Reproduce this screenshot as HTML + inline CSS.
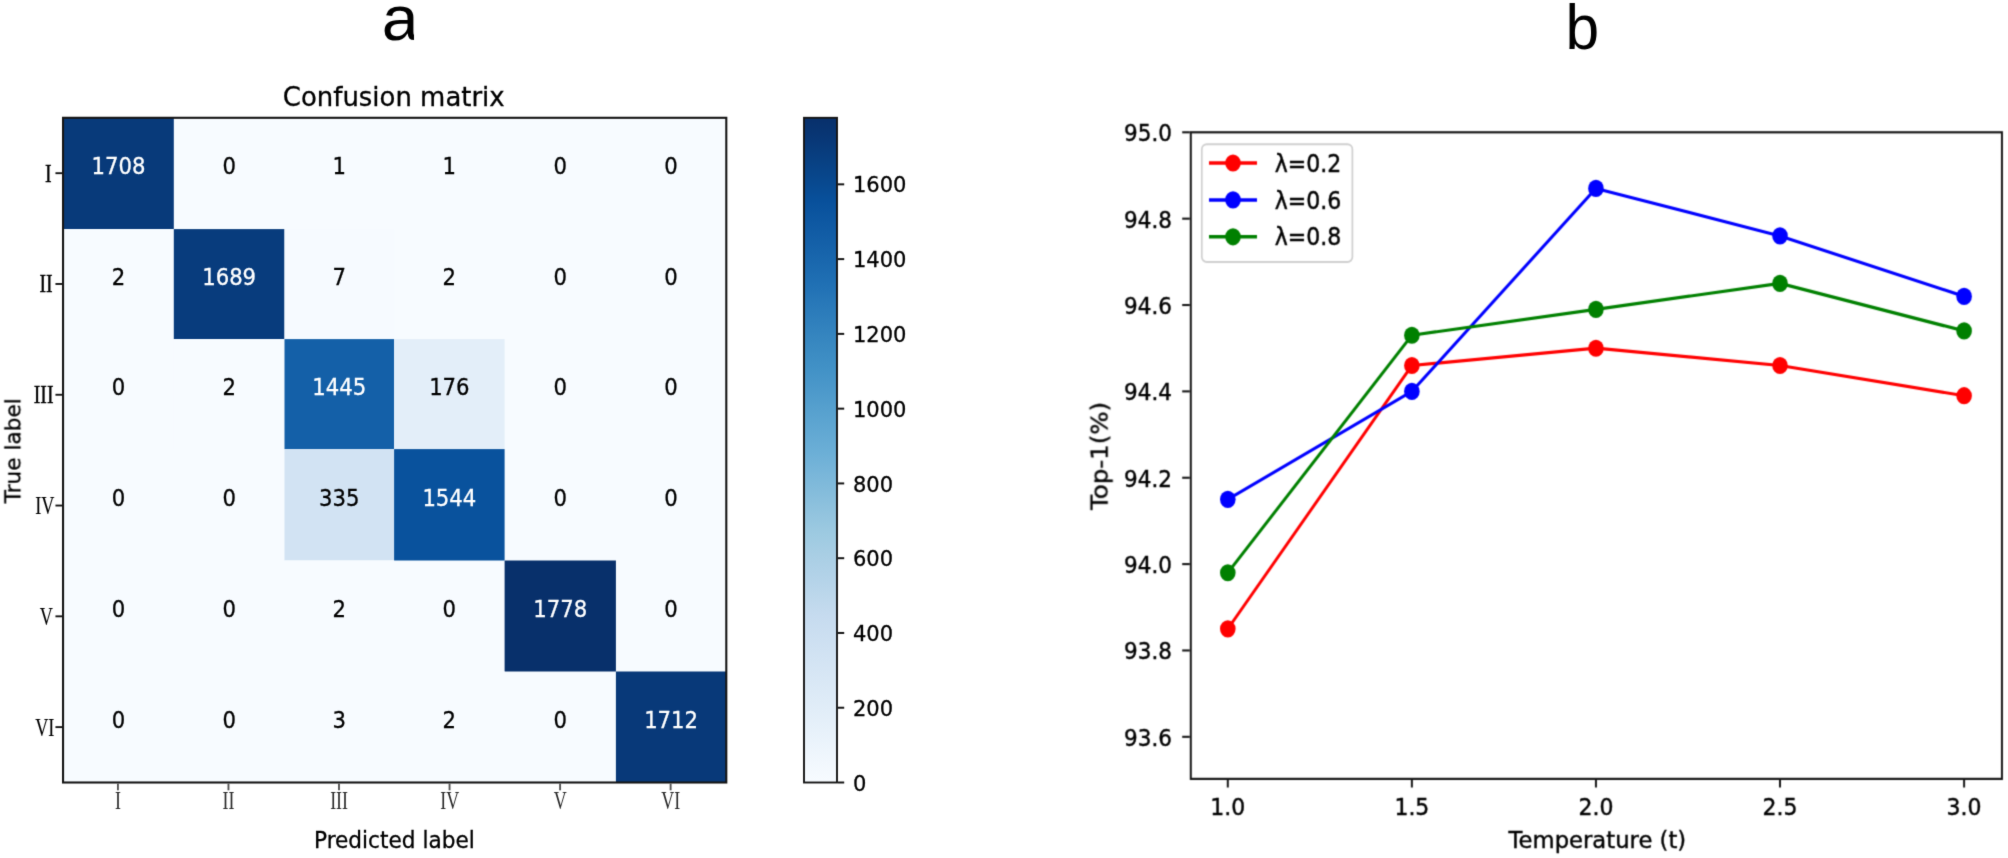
<!DOCTYPE html>
<html lang="en"><head><meta charset="utf-8"><title>Figure</title>
<style>html,body{margin:0;padding:0;background:#fff}body{width:2008px;height:858px;overflow:hidden}svg{display:block}</style></head>
<body>
<svg width="2008" height="858" viewBox="0 0 2008 858">
<rect width="2008" height="858" fill="#fff"/>
<defs><linearGradient id="cb" x1="0" y1="1" x2="0" y2="0">
<stop offset="0.0000" stop-color="#f7fbff"/>
<stop offset="0.0312" stop-color="#f1f7fd"/>
<stop offset="0.0625" stop-color="#eaf3fb"/>
<stop offset="0.0938" stop-color="#e4eff9"/>
<stop offset="0.1250" stop-color="#deebf7"/>
<stop offset="0.1562" stop-color="#d8e7f5"/>
<stop offset="0.1875" stop-color="#d2e3f3"/>
<stop offset="0.2188" stop-color="#ccdff1"/>
<stop offset="0.2500" stop-color="#c6dbef"/>
<stop offset="0.2812" stop-color="#bcd7eb"/>
<stop offset="0.3125" stop-color="#b2d2e8"/>
<stop offset="0.3438" stop-color="#a8cee4"/>
<stop offset="0.3750" stop-color="#9dcae1"/>
<stop offset="0.4062" stop-color="#91c3de"/>
<stop offset="0.4375" stop-color="#84bcdb"/>
<stop offset="0.4688" stop-color="#77b5d9"/>
<stop offset="0.5000" stop-color="#6aaed6"/>
<stop offset="0.5312" stop-color="#60a7d2"/>
<stop offset="0.5625" stop-color="#56a0ce"/>
<stop offset="0.5938" stop-color="#4b98ca"/>
<stop offset="0.6250" stop-color="#4191c6"/>
<stop offset="0.6562" stop-color="#3989c1"/>
<stop offset="0.6875" stop-color="#3181bd"/>
<stop offset="0.7188" stop-color="#2979b9"/>
<stop offset="0.7500" stop-color="#2070b4"/>
<stop offset="0.7812" stop-color="#1a68ae"/>
<stop offset="0.8125" stop-color="#1460a8"/>
<stop offset="0.8438" stop-color="#0e58a2"/>
<stop offset="0.8750" stop-color="#08509b"/>
<stop offset="0.9062" stop-color="#08488e"/>
<stop offset="0.9375" stop-color="#084082"/>
<stop offset="0.9688" stop-color="#083776"/>
<stop offset="1.0000" stop-color="#08306b"/>
</linearGradient>
<filter id="bl" color-interpolation-filters="sRGB" x="-2%" y="-2%" width="104%" height="104%"><feConvolveMatrix order="3" kernelMatrix="0.0113 0.0838 0.0113 0.0838 0.6193 0.0838 0.0113 0.0838 0.0113" edgeMode="duplicate"/></filter>
<filter id="br" color-interpolation-filters="sRGB" x="-2%" y="-2%" width="104%" height="104%"><feConvolveMatrix order="3" kernelMatrix="0.0311 0.1141 0.0311 0.1141 0.4191 0.1141 0.0311 0.1141 0.0311" edgeMode="duplicate"/></filter>
<filter id="bt" color-interpolation-filters="sRGB" x="-20%" y="-20%" width="140%" height="140%"><feConvolveMatrix order="3" kernelMatrix="0.0113 0.0838 0.0113 0.0838 0.6193 0.0838 0.0113 0.0838 0.0113" edgeMode="duplicate"/></filter>
<clipPath id="ca"><rect x="370" y="0" width="43.9" height="60"/></clipPath>
</defs>
<g font-family='"Liberation Sans", "DejaVu Sans", sans-serif' fill="#000" filter="url(#bt)">
<g clip-path="url(#ca)">
<text transform="translate(381.68 40.00) scale(1.060 1.000)" font-size="62.5">a</text>
</g>
<text transform="translate(1582.40 48.80) scale(0.955 1.000)" font-size="63.4" text-anchor="middle">b</text>
</g>
<g font-family='"DejaVu Sans", "Liberation Sans", sans-serif' fill="#000" filter="url(#bl)">
<rect x="63.05" y="117.8" width="663.25" height="664.70" fill="#f7fbff"/>
<rect x="63.05" y="117.80" width="110.75" height="111.30" fill="#083a7a"/>
<rect x="284.50" y="117.80" width="109.60" height="111.30" fill="#f7fbff"/>
<rect x="394.10" y="117.80" width="110.50" height="111.30" fill="#f7fbff"/>
<rect x="63.05" y="229.10" width="110.75" height="110.00" fill="#f7fbff"/>
<rect x="173.80" y="229.10" width="110.70" height="110.00" fill="#083c7d"/>
<rect x="284.50" y="229.10" width="109.60" height="110.00" fill="#f6faff"/>
<rect x="394.10" y="229.10" width="110.50" height="110.00" fill="#f7fbff"/>
<rect x="173.80" y="339.10" width="110.70" height="110.00" fill="#f7fbff"/>
<rect x="284.50" y="339.10" width="109.60" height="110.00" fill="#1460a8"/>
<rect x="394.10" y="339.10" width="110.50" height="110.00" fill="#e3eef9"/>
<rect x="284.50" y="449.10" width="109.60" height="111.40" fill="#d2e3f3"/>
<rect x="394.10" y="449.10" width="110.50" height="111.40" fill="#09529d"/>
<rect x="284.50" y="560.50" width="109.60" height="111.00" fill="#f7fbff"/>
<rect x="504.60" y="560.50" width="111.30" height="111.00" fill="#08306b"/>
<rect x="284.50" y="671.50" width="109.60" height="111.00" fill="#f7fbff"/>
<rect x="394.10" y="671.50" width="110.50" height="111.00" fill="#f7fbff"/>
<rect x="615.90" y="671.50" width="110.40" height="111.00" fill="#083979"/>
<text transform="translate(118.43 174.35) scale(1.000 1.060)" font-size="21.2" text-anchor="middle" fill="#fff" stroke="#fff" stroke-width="0.3">1708</text>
<text transform="translate(229.15 174.35) scale(1.000 1.060)" font-size="21.2" text-anchor="middle" stroke="#000" stroke-width="0.3">0</text>
<text transform="translate(339.30 174.35) scale(1.000 1.060)" font-size="21.2" text-anchor="middle" stroke="#000" stroke-width="0.3">1</text>
<text transform="translate(449.35 174.35) scale(1.000 1.060)" font-size="21.2" text-anchor="middle" stroke="#000" stroke-width="0.3">1</text>
<text transform="translate(560.25 174.35) scale(1.000 1.060)" font-size="21.2" text-anchor="middle" stroke="#000" stroke-width="0.3">0</text>
<text transform="translate(671.10 174.35) scale(1.000 1.060)" font-size="21.2" text-anchor="middle" stroke="#000" stroke-width="0.3">0</text>
<text transform="translate(118.43 285.00) scale(1.000 1.060)" font-size="21.2" text-anchor="middle" stroke="#000" stroke-width="0.3">2</text>
<text transform="translate(229.15 285.00) scale(1.000 1.060)" font-size="21.2" text-anchor="middle" fill="#fff" stroke="#fff" stroke-width="0.3">1689</text>
<text transform="translate(339.30 285.00) scale(1.000 1.060)" font-size="21.2" text-anchor="middle" stroke="#000" stroke-width="0.3">7</text>
<text transform="translate(449.35 285.00) scale(1.000 1.060)" font-size="21.2" text-anchor="middle" stroke="#000" stroke-width="0.3">2</text>
<text transform="translate(560.25 285.00) scale(1.000 1.060)" font-size="21.2" text-anchor="middle" stroke="#000" stroke-width="0.3">0</text>
<text transform="translate(671.10 285.00) scale(1.000 1.060)" font-size="21.2" text-anchor="middle" stroke="#000" stroke-width="0.3">0</text>
<text transform="translate(118.43 395.00) scale(1.000 1.060)" font-size="21.2" text-anchor="middle" stroke="#000" stroke-width="0.3">0</text>
<text transform="translate(229.15 395.00) scale(1.000 1.060)" font-size="21.2" text-anchor="middle" stroke="#000" stroke-width="0.3">2</text>
<text transform="translate(339.30 395.00) scale(1.000 1.060)" font-size="21.2" text-anchor="middle" fill="#fff" stroke="#fff" stroke-width="0.3">1445</text>
<text transform="translate(449.35 395.00) scale(1.000 1.060)" font-size="21.2" text-anchor="middle" stroke="#000" stroke-width="0.3">176</text>
<text transform="translate(560.25 395.00) scale(1.000 1.060)" font-size="21.2" text-anchor="middle" stroke="#000" stroke-width="0.3">0</text>
<text transform="translate(671.10 395.00) scale(1.000 1.060)" font-size="21.2" text-anchor="middle" stroke="#000" stroke-width="0.3">0</text>
<text transform="translate(118.43 505.70) scale(1.000 1.060)" font-size="21.2" text-anchor="middle" stroke="#000" stroke-width="0.3">0</text>
<text transform="translate(229.15 505.70) scale(1.000 1.060)" font-size="21.2" text-anchor="middle" stroke="#000" stroke-width="0.3">0</text>
<text transform="translate(339.30 505.70) scale(1.000 1.060)" font-size="21.2" text-anchor="middle" stroke="#000" stroke-width="0.3">335</text>
<text transform="translate(449.35 505.70) scale(1.000 1.060)" font-size="21.2" text-anchor="middle" fill="#fff" stroke="#fff" stroke-width="0.3">1544</text>
<text transform="translate(560.25 505.70) scale(1.000 1.060)" font-size="21.2" text-anchor="middle" stroke="#000" stroke-width="0.3">0</text>
<text transform="translate(671.10 505.70) scale(1.000 1.060)" font-size="21.2" text-anchor="middle" stroke="#000" stroke-width="0.3">0</text>
<text transform="translate(118.43 616.90) scale(1.000 1.060)" font-size="21.2" text-anchor="middle" stroke="#000" stroke-width="0.3">0</text>
<text transform="translate(229.15 616.90) scale(1.000 1.060)" font-size="21.2" text-anchor="middle" stroke="#000" stroke-width="0.3">0</text>
<text transform="translate(339.30 616.90) scale(1.000 1.060)" font-size="21.2" text-anchor="middle" stroke="#000" stroke-width="0.3">2</text>
<text transform="translate(449.35 616.90) scale(1.000 1.060)" font-size="21.2" text-anchor="middle" stroke="#000" stroke-width="0.3">0</text>
<text transform="translate(560.25 616.90) scale(1.000 1.060)" font-size="21.2" text-anchor="middle" fill="#fff" stroke="#fff" stroke-width="0.3">1778</text>
<text transform="translate(671.10 616.90) scale(1.000 1.060)" font-size="21.2" text-anchor="middle" stroke="#000" stroke-width="0.3">0</text>
<text transform="translate(118.43 727.90) scale(1.000 1.060)" font-size="21.2" text-anchor="middle" stroke="#000" stroke-width="0.3">0</text>
<text transform="translate(229.15 727.90) scale(1.000 1.060)" font-size="21.2" text-anchor="middle" stroke="#000" stroke-width="0.3">0</text>
<text transform="translate(339.30 727.90) scale(1.000 1.060)" font-size="21.2" text-anchor="middle" stroke="#000" stroke-width="0.3">3</text>
<text transform="translate(449.35 727.90) scale(1.000 1.060)" font-size="21.2" text-anchor="middle" stroke="#000" stroke-width="0.3">2</text>
<text transform="translate(560.25 727.90) scale(1.000 1.060)" font-size="21.2" text-anchor="middle" stroke="#000" stroke-width="0.3">0</text>
<text transform="translate(671.10 727.90) scale(1.000 1.060)" font-size="21.2" text-anchor="middle" fill="#fff" stroke="#fff" stroke-width="0.3">1712</text>
<rect x="63.05" y="117.8" width="663.25" height="664.70" fill="none" stroke="#161616" stroke-width="2.1"/>
<line x1="55.449999999999996" x2="62.05" y1="173.19" y2="173.19" stroke="#161616" stroke-width="1.9"/>
<line y1="783.5" y2="790.3" x1="117.92" x2="117.92" stroke="#555" stroke-width="1.9"/>
<line x1="55.449999999999996" x2="62.05" y1="283.98" y2="283.98" stroke="#161616" stroke-width="1.9"/>
<line y1="783.5" y2="790.3" x1="228.46" x2="228.46" stroke="#555" stroke-width="1.9"/>
<line x1="55.449999999999996" x2="62.05" y1="394.76" y2="394.76" stroke="#161616" stroke-width="1.9"/>
<line y1="783.5" y2="790.3" x1="339.00" x2="339.00" stroke="#555" stroke-width="1.9"/>
<line x1="55.449999999999996" x2="62.05" y1="505.54" y2="505.54" stroke="#161616" stroke-width="1.9"/>
<line y1="783.5" y2="790.3" x1="449.55" x2="449.55" stroke="#555" stroke-width="1.9"/>
<line x1="55.449999999999996" x2="62.05" y1="616.33" y2="616.33" stroke="#161616" stroke-width="1.9"/>
<line y1="783.5" y2="790.3" x1="560.09" x2="560.09" stroke="#555" stroke-width="1.9"/>
<line x1="55.449999999999996" x2="62.05" y1="727.11" y2="727.11" stroke="#161616" stroke-width="1.9"/>
<line y1="783.5" y2="790.3" x1="670.63" x2="670.63" stroke="#555" stroke-width="1.9"/>
<text transform="translate(393.77 106.00) scale(1.000 1.030)" font-size="25.95" text-anchor="middle" stroke="#000" stroke-width="0.3">Confusion matrix</text>
<text transform="translate(394.37 847.60) scale(1.000 1.040)" font-size="21.65" text-anchor="middle" stroke="#000" stroke-width="0.3">Predicted label</text>
<text transform="translate(20.40 450.75) rotate(-90)" font-size="21.65" text-anchor="middle" stroke="#000" stroke-width="0.3">True label</text>
<rect x="804.0" y="117.8" width="33.0" height="664.70" fill="url(#cb)" stroke="#161616" stroke-width="1.9"/>
<line x1="838.0" x2="844.2" y1="782.50" y2="782.50" stroke="#161616" stroke-width="2"/>
<text transform="translate(853.00 790.60) scale(1.000 1.050)" font-size="21.0" stroke="#000" stroke-width="0.3">0</text>
<line x1="838.0" x2="844.2" y1="707.73" y2="707.73" stroke="#161616" stroke-width="2"/>
<text transform="translate(853.00 715.83) scale(1.000 1.050)" font-size="21.0" stroke="#000" stroke-width="0.3">200</text>
<line x1="838.0" x2="844.2" y1="632.96" y2="632.96" stroke="#161616" stroke-width="2"/>
<text transform="translate(853.00 641.06) scale(1.000 1.050)" font-size="21.0" stroke="#000" stroke-width="0.3">400</text>
<line x1="838.0" x2="844.2" y1="558.19" y2="558.19" stroke="#161616" stroke-width="2"/>
<text transform="translate(853.00 566.29) scale(1.000 1.050)" font-size="21.0" stroke="#000" stroke-width="0.3">600</text>
<line x1="838.0" x2="844.2" y1="483.42" y2="483.42" stroke="#161616" stroke-width="2"/>
<text transform="translate(853.00 491.52) scale(1.000 1.050)" font-size="21.0" stroke="#000" stroke-width="0.3">800</text>
<line x1="838.0" x2="844.2" y1="408.65" y2="408.65" stroke="#161616" stroke-width="2"/>
<text transform="translate(853.00 416.75) scale(1.000 1.050)" font-size="21.0" stroke="#000" stroke-width="0.3">1000</text>
<line x1="838.0" x2="844.2" y1="333.88" y2="333.88" stroke="#161616" stroke-width="2"/>
<text transform="translate(853.00 341.98) scale(1.000 1.050)" font-size="21.0" stroke="#000" stroke-width="0.3">1200</text>
<line x1="838.0" x2="844.2" y1="259.11" y2="259.11" stroke="#161616" stroke-width="2"/>
<text transform="translate(853.00 267.21) scale(1.000 1.050)" font-size="21.0" stroke="#000" stroke-width="0.3">1400</text>
<line x1="838.0" x2="844.2" y1="184.34" y2="184.34" stroke="#161616" stroke-width="2"/>
<text transform="translate(853.00 192.44) scale(1.000 1.050)" font-size="21.0" stroke="#000" stroke-width="0.3">1600</text>
</g>
<g font-family='"Liberation Serif", "Noto Serif CJK SC", serif' filter="url(#bl)">
<text transform="translate(51.70 181.59) scale(0.760 1.000)" font-size="26" text-anchor="end" stroke="#000" stroke-width="0.45">I</text>
<text transform="translate(118.02 809.20) scale(0.690 1.000)" font-size="26" text-anchor="middle" fill="#2b2b2b">I</text>
<text transform="translate(52.70 292.38) scale(0.760 1.000)" font-size="26" text-anchor="end" stroke="#000" stroke-width="0.45">II</text>
<text transform="translate(228.56 809.20) scale(0.690 1.000)" font-size="26" text-anchor="middle" fill="#2b2b2b">II</text>
<text transform="translate(53.50 403.16) scale(0.760 1.000)" font-size="26" text-anchor="end" stroke="#000" stroke-width="0.45">III</text>
<text transform="translate(339.10 809.20) scale(0.690 1.000)" font-size="26" text-anchor="middle" fill="#2b2b2b">III</text>
<text transform="translate(54.40 513.94) scale(0.700 1.000)" font-size="26" text-anchor="end" stroke="#000" stroke-width="0.15">IV</text>
<text transform="translate(449.65 809.20) scale(0.690 1.000)" font-size="26" text-anchor="middle" fill="#2b2b2b">IV</text>
<text transform="translate(52.90 624.73) scale(0.700 1.000)" font-size="26" text-anchor="end" stroke="#000" stroke-width="0.1">V</text>
<text transform="translate(560.19 809.20) scale(0.690 1.000)" font-size="26" text-anchor="middle" fill="#2b2b2b">V</text>
<text transform="translate(54.40 735.51) scale(0.700 1.000)" font-size="26" text-anchor="end" stroke="#000" stroke-width="0.15">VI</text>
<text transform="translate(670.73 809.20) scale(0.690 1.000)" font-size="26" text-anchor="middle" fill="#2b2b2b">VI</text>
</g>
<g transform="scale(1 1.1)" font-family='"DejaVu Sans", "Liberation Sans", sans-serif' font-size="22.7" fill="#000" filter="url(#br)">
<polyline points="1227.80,571.70 1411.88,332.25 1595.95,316.55 1780.02,332.25 1964.10,359.73" fill="none" stroke="#ff0000" stroke-width="2.9" stroke-linejoin="round"/>
<circle cx="1227.80" cy="571.70" r="7.8" fill="#ff0000"/>
<circle cx="1411.88" cy="332.25" r="7.8" fill="#ff0000"/>
<circle cx="1595.95" cy="316.55" r="7.8" fill="#ff0000"/>
<circle cx="1780.02" cy="332.25" r="7.8" fill="#ff0000"/>
<circle cx="1964.10" cy="359.73" r="7.8" fill="#ff0000"/>
<polyline points="1227.80,453.94 1411.88,355.80 1595.95,171.30 1780.02,214.48 1964.10,269.44" fill="none" stroke="#0000ff" stroke-width="2.9" stroke-linejoin="round"/>
<circle cx="1227.80" cy="453.94" r="7.8" fill="#0000ff"/>
<circle cx="1411.88" cy="355.80" r="7.8" fill="#0000ff"/>
<circle cx="1595.95" cy="171.30" r="7.8" fill="#0000ff"/>
<circle cx="1780.02" cy="214.48" r="7.8" fill="#0000ff"/>
<circle cx="1964.10" cy="269.44" r="7.8" fill="#0000ff"/>
<polyline points="1227.80,520.67 1411.88,304.77 1595.95,281.22 1780.02,257.66 1964.10,300.84" fill="none" stroke="#008000" stroke-width="2.9" stroke-linejoin="round"/>
<circle cx="1227.80" cy="520.67" r="7.8" fill="#008000"/>
<circle cx="1411.88" cy="304.77" r="7.8" fill="#008000"/>
<circle cx="1595.95" cy="281.22" r="7.8" fill="#008000"/>
<circle cx="1780.02" cy="257.66" r="7.8" fill="#008000"/>
<circle cx="1964.10" cy="300.84" r="7.8" fill="#008000"/>
<rect x="1190.8" y="120.27" width="811.15" height="587.82" fill="none" stroke="#161616" stroke-width="2"/>
<line x1="1227.80" x2="1227.80" y1="709.00" y2="715.91" stroke="#161616" stroke-width="2"/>
<text transform="translate(1227.80 741.18) scale(1.000 0.985)" font-size="22.0" text-anchor="middle" stroke="#000" stroke-width="0.4">1.0</text>
<line x1="1411.88" x2="1411.88" y1="709.00" y2="715.91" stroke="#161616" stroke-width="2"/>
<text transform="translate(1411.88 741.18) scale(1.000 0.985)" font-size="22.0" text-anchor="middle" stroke="#000" stroke-width="0.4">1.5</text>
<line x1="1595.95" x2="1595.95" y1="709.00" y2="715.91" stroke="#161616" stroke-width="2"/>
<text transform="translate(1595.95 741.18) scale(1.000 0.985)" font-size="22.0" text-anchor="middle" stroke="#000" stroke-width="0.4">2.0</text>
<line x1="1780.02" x2="1780.02" y1="709.00" y2="715.91" stroke="#161616" stroke-width="2"/>
<text transform="translate(1780.02 741.18) scale(1.000 0.985)" font-size="22.0" text-anchor="middle" stroke="#000" stroke-width="0.4">2.5</text>
<line x1="1964.10" x2="1964.10" y1="709.00" y2="715.91" stroke="#161616" stroke-width="2"/>
<text transform="translate(1964.10 741.18) scale(1.000 0.985)" font-size="22.0" text-anchor="middle" stroke="#000" stroke-width="0.4">3.0</text>
<line x1="1182.2" x2="1189.8" y1="669.84" y2="669.84" stroke="#161616" stroke-width="1.9"/>
<text transform="translate(1172.00 678.02) scale(1.000 0.960)" font-size="21.5" text-anchor="end" stroke="#000" stroke-width="0.4">93.6</text>
<line x1="1182.2" x2="1189.8" y1="591.33" y2="591.33" stroke="#161616" stroke-width="1.9"/>
<text transform="translate(1172.00 599.51) scale(1.000 0.960)" font-size="21.5" text-anchor="end" stroke="#000" stroke-width="0.4">93.8</text>
<line x1="1182.2" x2="1189.8" y1="512.82" y2="512.82" stroke="#161616" stroke-width="1.9"/>
<text transform="translate(1172.00 521.00) scale(1.000 0.960)" font-size="21.5" text-anchor="end" stroke="#000" stroke-width="0.4">94.0</text>
<line x1="1182.2" x2="1189.8" y1="434.31" y2="434.31" stroke="#161616" stroke-width="1.9"/>
<text transform="translate(1172.00 442.49) scale(1.000 0.960)" font-size="21.5" text-anchor="end" stroke="#000" stroke-width="0.4">94.2</text>
<line x1="1182.2" x2="1189.8" y1="355.80" y2="355.80" stroke="#161616" stroke-width="1.9"/>
<text transform="translate(1172.00 363.98) scale(1.000 0.960)" font-size="21.5" text-anchor="end" stroke="#000" stroke-width="0.4">94.4</text>
<line x1="1182.2" x2="1189.8" y1="277.29" y2="277.29" stroke="#161616" stroke-width="1.9"/>
<text transform="translate(1172.00 285.47) scale(1.000 0.960)" font-size="21.5" text-anchor="end" stroke="#000" stroke-width="0.4">94.6</text>
<line x1="1182.2" x2="1189.8" y1="198.78" y2="198.78" stroke="#161616" stroke-width="1.9"/>
<text transform="translate(1172.00 206.96) scale(1.000 0.960)" font-size="21.5" text-anchor="end" stroke="#000" stroke-width="0.4">94.8</text>
<line x1="1182.2" x2="1189.8" y1="120.27" y2="120.27" stroke="#161616" stroke-width="1.9"/>
<text transform="translate(1172.00 128.45) scale(1.000 0.960)" font-size="21.5" text-anchor="end" stroke="#000" stroke-width="0.4">95.0</text>
<text transform="translate(1597.38 771.09) scale(1.000 0.945)" font-size="22.7" text-anchor="middle" stroke="#000" stroke-width="0.4">Temperature (t)</text>
<text transform="translate(1107.60 414.55) rotate(-90)" font-size="22.25" text-anchor="middle" stroke="#000" stroke-width="0.4">Top-1(%)</text>
<rect x="1201.8" y="131.09" width="150.6" height="107.09" rx="5" ry="4.5" fill="#fff" fill-opacity="0.8" stroke="#cfcfcf" stroke-width="1.7"/>
<line x1="1209" x2="1257" y1="148.18" y2="148.18" stroke="#ff0000" stroke-width="3.2"/>
<circle cx="1233" cy="148.18" r="7.8" fill="#ff0000"/>
<text transform="translate(1274.80 156.00) scale(1.000 1.010)" font-size="22.05" stroke="#000" stroke-width="0.4">λ=0.2</text>
<line x1="1209" x2="1257" y1="181.73" y2="181.73" stroke="#0000ff" stroke-width="3.2"/>
<circle cx="1233" cy="181.73" r="7.8" fill="#0000ff"/>
<text transform="translate(1274.80 189.55) scale(1.000 1.010)" font-size="22.05" stroke="#000" stroke-width="0.4">λ=0.6</text>
<line x1="1209" x2="1257" y1="215.27" y2="215.27" stroke="#008000" stroke-width="3.2"/>
<circle cx="1233" cy="215.27" r="7.8" fill="#008000"/>
<text transform="translate(1274.80 223.09) scale(1.000 1.010)" font-size="22.05" stroke="#000" stroke-width="0.4">λ=0.8</text>
</g>
</svg>
</body></html>
